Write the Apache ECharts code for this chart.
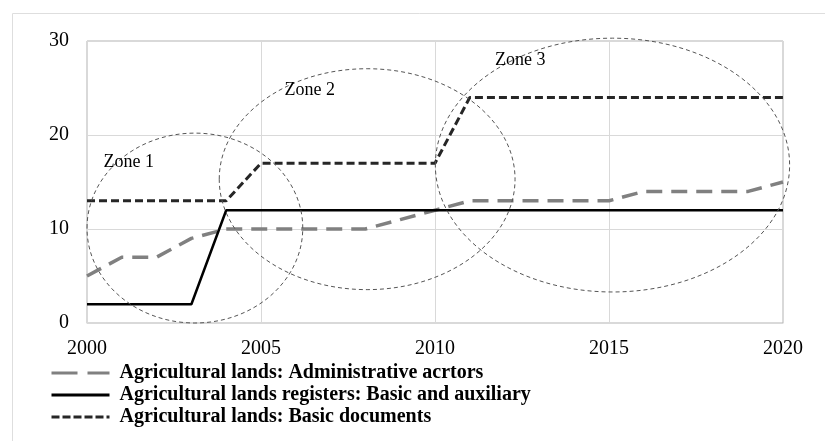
<!DOCTYPE html>
<html>
<head>
<meta charset="utf-8">
<script src="https://cdn.jsdelivr.net/npm/echarts@6/dist/echarts.min.js"></script>
<style>
  html, body { margin: 0; padding: 0; background: #fff; }
  #main { width: 825px; height: 441px; }
</style>
</head>
<body>
<div id="main"></div>
<script>
// years on x axis
var years = [2000, 2001, 2002, 2003, 2004, 2005, 2006, 2007, 2008, 2009, 2010,
             2011, 2012, 2013, 2014, 2015, 2016, 2017, 2018, 2019, 2020];
var adminActors = [5, 7, 7, 9, 10, 10, 10, 10, 10, 11, 12, 13, 13, 13, 13, 13, 14, 14, 14, 14, 15];
var registers   = [2, 2, 2, 2, 12, 12, 12, 12, 12, 12, 12, 12, 12, 12, 12, 12, 12, 12, 12, 12, 12];
var basicDocs   = [13, 13, 13, 13, 13, 17, 17, 17, 17, 17, 17, 24, 24, 24, 24, 24, 24, 24, 24, 24, 24];

var seriesNames = [
  'Agricultural lands: Administrative acrtors',
  'Agricultural lands registers: Basic and auxiliary',
  'Agricultural lands: Basic documents'
];

// zones: [centerYear, centerValue, radiusYears, radiusValue]
var zoneEllipses = [
  [2003.1, 10.1, 3.1, 10.1],
  [2008.05, 15.3, 4.25, 11.75],
  [2015.1, 16.8, 5.09, 13.5]
];
// zone labels: [year, value, text]
var zoneLabels = [
  [2001.2, 17.1, 'Zone 1'],
  [2006.4, 24.8, 'Zone 2'],
  [2012.45, 28.0, 'Zone 3']
];

function pairs(vals) {
  var out = [];
  for (var i = 0; i < years.length; i++) out.push([years[i], vals[i]]);
  return out;
}

var font = '"Liberation Serif", "Times New Roman", serif';

var option = {
  animation: false,
  textStyle: { fontFamily: font },
  graphic: [{
    type: 'rect', z: -10, silent: true,
    shape: { x: 12.5, y: 13.5, width: 830, height: 440 },
    style: { fill: 'none', stroke: '#dedede', lineWidth: 1 }
  }],
  grid: {
    left: 87, right: 42, top: 41, bottom: 118,
    show: true, borderColor: '#b3b3b3', borderWidth: 1
  },
  legend: {
    orient: 'vertical',
    left: 45, top: 358, height: 80,
    itemWidth: 58, itemHeight: 14, itemGap: 2,
    data: [
      { name: seriesNames[0], lineStyle: { type: [26, 10], width: 3 } },
      { name: seriesNames[1], lineStyle: { width: 3 } },
      { name: seriesNames[2], lineStyle: { type: [8, 3], width: 3 } }
    ],
    itemStyle: { opacity: 0 },
    textStyle: { fontFamily: font, fontSize: 20, fontWeight: 'bold', color: '#000', padding: [0, 0, 0, 5] }
  },
  xAxis: {
    type: 'value', min: 2000, max: 2020, interval: 5,
    axisLine: { show: true, lineStyle: { color: '#d9d9d9' } },
    axisTick: { show: false },
    splitLine: { show: true, lineStyle: { color: '#d9d9d9', width: 1 } },
    axisLabel: {
      color: '#000', fontSize: 20, fontFamily: font, margin: 16,
      formatter: function (v) { return String(v); }
    }
  },
  yAxis: {
    type: 'value', min: 0, max: 30, interval: 10,
    axisLine: { show: true, lineStyle: { color: '#d9d9d9' } },
    axisTick: { show: false },
    splitLine: { show: true, lineStyle: { color: '#d9d9d9', width: 1 } },
    axisLabel: { color: '#000', fontSize: 20, fontFamily: font, margin: 18 }
  },
  series: [
    {
      name: seriesNames[0], type: 'line', data: pairs(adminActors),
      showSymbol: false, symbol: 'none', z: 3,
      lineStyle: { color: '#808080', width: 3.5, type: [16, 9] },
      itemStyle: { color: '#808080' }
    },
    {
      name: seriesNames[1], type: 'line', data: pairs(registers),
      showSymbol: false, symbol: 'none', z: 4,
      lineStyle: { color: '#000', width: 2.5, type: 'solid' },
      itemStyle: { color: '#000' }
    },
    {
      name: seriesNames[2], type: 'line', data: pairs(basicDocs),
      showSymbol: false, symbol: 'none', z: 5,
      lineStyle: { color: '#262626', width: 3, type: [8, 4] },
      itemStyle: { color: '#262626' }
    },
    {
      // zone ellipses
      type: 'custom', silent: true, z: 6,
      data: zoneEllipses,
      renderItem: function (params, api) {
        var c = api.coord([api.value(0), api.value(1)]);
        var s = api.size([api.value(2), api.value(3)]);
        return {
          type: 'ellipse',
          shape: { cx: c[0], cy: c[1], rx: s[0], ry: s[1] },
          style: { fill: 'none', stroke: '#555', lineWidth: 1, lineDash: [4, 3] }
        };
      }
    },
    {
      // zone labels
      type: 'custom', silent: true, z: 7,
      data: zoneLabels,
      renderItem: function (params, api) {
        var c = api.coord([api.value(0), api.value(1)]);
        return {
          type: 'text',
          style: {
            x: c[0], y: c[1], text: zoneLabels[params.dataIndex][2],
            font: '18px ' + font, fill: '#000',
            align: 'center', verticalAlign: 'middle'
          }
        };
      }
    }
  ]
};

var myChart = echarts.init(document.getElementById('main'));
myChart.setOption(option);
</script>
</body>
</html>
